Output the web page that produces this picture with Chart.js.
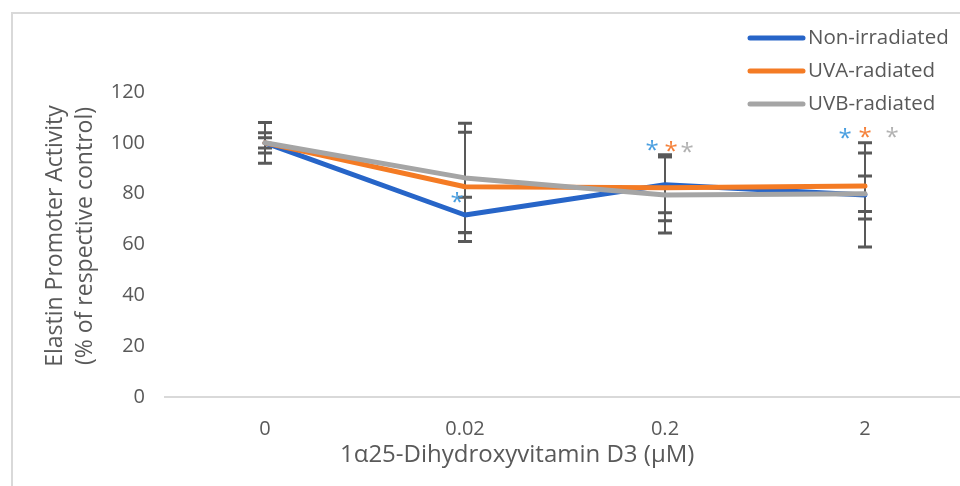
<!DOCTYPE html>
<html>
<head>
<meta charset="utf-8">
<script src="https://cdn.jsdelivr.net/npm/chart.js@4.4.1/dist/chart.umd.min.js"></script>
<style>
  html, body { margin: 0; padding: 0; background: #fff; }
  #wrap { position: relative; width: 960px; height: 486px; overflow: hidden; background: #fff; }
  #frame { position: absolute; left: 11px; top: 12px; width: 1200px; height: 1000px; border: 2px solid #d9d9d9; box-sizing: border-box; }
  #c { position: absolute; left: 0; top: 0; }
  .txt { position: absolute; font-family: "Open Sans", sans-serif; color: #595959; white-space: nowrap; }
  #ytitle { left: 68px; top: 236px; width: 320px; font-size: 23px; line-height: 30px; text-align: center; transform: translate(-50%, -50%) rotate(-90deg); }
  #xtitle { left: 340px; top: 452px; font-size: 24px; transform: translateY(-50%); }
</style>
</head>
<body>
<div id="wrap">
  <div id="frame"></div>
  <canvas id="c" width="970" height="486"></canvas>
  <div id="ytitle" class="txt">Elastin Promoter Activity<br>(% of respective control)</div>
  <div id="xtitle" class="txt">1α25-Dihydroxyvitamin D3 (μM)</div>
</div>
<script>
// ---- data ----
const categories = ['0', '0.02', '0.2', '2'];
const seriesNames = ['Non-irradiated', 'UVA-radiated', 'UVB-radiated'];
const nonIrradiated = [100, 71.6, 83.5, 79.5];
const uvaRadiated   = [100, 82.7, 82.3, 83.0];
const uvbRadiated   = [100, 86.2, 79.5, 80.0];
const nonIrradiatedErr = [8, 7, 11, 20.5];
const uvaRadiatedErr   = [4, 21.5, 13, 13];
const uvbRadiatedErr   = [2, 21.5, 15, 7];
// significance asterisks: [category position, value]
const nonIrradiatedSig = [[0.96, 78.7], [1.935, 99.2], [2.9, 104]];
const uvaRadiatedSig   = [[2.03, 98.8], [3.0, 104.3]];
const uvbRadiatedSig   = [[2.11, 98.4], [3.135, 104.3]];
const yTicks = [0, 20, 40, 60, 80, 100, 120];

const lineColors = ['#2765c8', '#f47b24', '#a5a5a5'];
const starColors = ['#4a9fe0', '#f5813a', '#b2b2b2'];
const errs = [nonIrradiatedErr, uvaRadiatedErr, uvbRadiatedErr];
const sigs = [nonIrradiatedSig, uvaRadiatedSig, uvbRadiatedSig];
const FONT = '"Open Sans", sans-serif';
const TXT = '#595959';

const errorBars = {
  id: 'errorBars',
  beforeDatasetsDraw(chart) {
    const { ctx, scales: { x, y } } = chart;
    ctx.save();
    ctx.strokeStyle = '#595959';
    chart.data.datasets.forEach((ds, i) => {
      ds.data.forEach((v, j) => {
        const e = errs[i][j];
        const px = x.getPixelForValue(j);
        const top = y.getPixelForValue(v + e), bot = y.getPixelForValue(v - e);
        ctx.lineWidth = 2;
        ctx.beginPath(); ctx.moveTo(px, top); ctx.lineTo(px, bot); ctx.stroke();
        ctx.lineWidth = 3;
        ctx.beginPath();
        ctx.moveTo(px - 7, top); ctx.lineTo(px + 7, top);
        ctx.moveTo(px - 7, bot); ctx.lineTo(px + 7, bot);
        ctx.stroke();
      });
    });
    ctx.restore();
  },
  afterDatasetsDraw(chart) {
    const { ctx, scales: { x, y } } = chart;
    ctx.save();
    ctx.font = '24px ' + FONT;
    ctx.textAlign = 'center';
    ctx.textBaseline = 'middle';
    sigs.forEach((list, i) => {
      ctx.fillStyle = starColors[i];
      list.forEach(([cx, cy]) => {
        ctx.fillText('*', x.getPixelForValue(cx), y.getPixelForValue(cy) + 6);
      });
    });
    ctx.restore();
  }
};

const customLegend = {
  id: 'customLegend',
  afterDraw(chart) {
    const { ctx } = chart;
    ctx.save();
    ctx.font = '20.5px ' + FONT;
    ctx.textBaseline = 'middle';
    ctx.textAlign = 'left';
    chart.data.datasets.forEach((ds, i) => {
      const yy = 38 + 33 * i;
      ctx.strokeStyle = ds.borderColor;
      ctx.lineWidth = 5;
      ctx.lineCap = 'round';
      ctx.beginPath(); ctx.moveTo(750, yy); ctx.lineTo(803, yy); ctx.stroke();
      ctx.fillStyle = TXT;
      ctx.fillText(ds.label, 808, yy);
    });
    ctx.restore();
  }
};

new Chart(document.getElementById('c'), {
  type: 'line',
  data: {
    labels: categories,
    datasets: [
      { label: seriesNames[0], data: nonIrradiated, borderColor: lineColors[0], order: 2 },
      { label: seriesNames[1], data: uvaRadiated, borderColor: lineColors[1], order: 1 },
      { label: seriesNames[2], data: uvbRadiated, borderColor: lineColors[2], order: 0 }
    ].map(d => Object.assign(d, { borderWidth: 5, pointRadius: 0, tension: 0, borderCapStyle: 'round', borderJoinStyle: 'round', fill: false }))
  },
  options: {
    responsive: false,
    animation: false,
    layout: { padding: { left: 0, top: 92, right: 5, bottom: 0 } },
    plugins: { legend: { display: false }, tooltip: { enabled: false } },
    scales: {
      x: {
        type: 'category',
        offset: true,
        grid: { display: false, drawTicks: false },
        border: { display: true, color: '#d9d9d9', width: 2 },
        ticks: { color: TXT, font: { family: FONT, size: 20 }, padding: 20, maxRotation: 0 },
        afterFit(s) { s.height = 89; }
      },
      y: {
        min: 0, max: 120,
        afterBuildTicks(s) { s.ticks = yTicks.map(v => ({ value: v })); },
        grid: { display: false, drawTicks: false },
        border: { display: false },
        ticks: { color: TXT, font: { family: FONT, size: 20 }, padding: 20 },
        afterFit(s) { s.width = 165; }
      }
    }
  },
  plugins: [errorBars, customLegend]
});
</script>
</body>
</html>
